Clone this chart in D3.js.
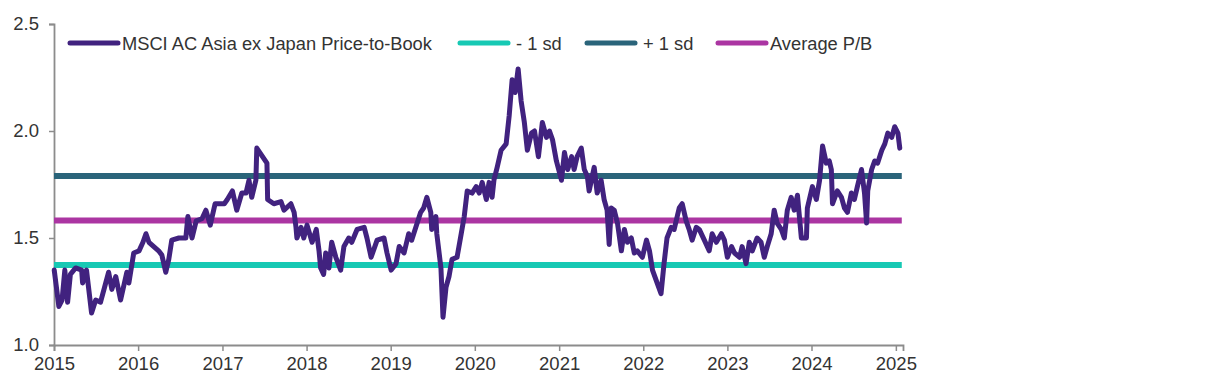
<!DOCTYPE html>
<html>
<head>
<meta charset="utf-8">
<script src="https://cdn.jsdelivr.net/npm/d3@7"></script>
<style>
  body { margin: 0; background: #fff; }
  text { font-family: "Liberation Sans", Arial, sans-serif; fill: #333; }
</style>
</head>
<body>
<div id="chart"></div>
<script>
// P/B readings
const dates = [
  "2015-01-02","2015-01-22","2015-02-05","2015-02-17","2015-03-01","2015-03-13","2015-04-05","2015-05-01","2015-05-05","2015-05-22",
  "2015-06-13","2015-07-01","2015-07-22","2015-08-26","2015-09-09","2015-09-26","2015-10-17","2015-11-13","2015-11-22","2015-12-13",
  "2016-01-05","2016-01-22","2016-02-04","2016-02-17","2016-03-09","2016-03-30","2016-04-13","2016-04-30","2016-05-13","2016-05-26",
  "2016-06-26","2016-07-26","2016-08-04","2016-08-22","2016-09-09","2016-10-04","2016-10-21","2016-11-09","2016-11-30","2017-01-09",
  "2017-01-22","2017-02-13","2017-03-04","2017-03-26","2017-04-13","2017-04-26","2017-05-08","2017-05-26","2017-05-30","2017-07-13",
  "2017-07-16","2017-08-12","2017-09-12","2017-09-25","2017-10-25","2017-11-08","2017-11-16","2017-11-20","2017-12-08","2017-12-20",
  "2018-01-03","2018-01-25","2018-02-12","2018-02-24","2018-03-03","2018-03-16","2018-03-25","2018-04-08","2018-04-20","2018-05-08",
  "2018-05-29","2018-06-12","2018-07-03","2018-07-16","2018-08-08","2018-09-08","2018-09-20","2018-10-08","2018-11-03","2018-12-03",
  "2018-12-16","2019-01-03","2019-01-24","2019-02-07","2019-02-28","2019-03-20","2019-04-02","2019-04-20","2019-05-11","2019-05-24",
  "2019-06-07","2019-06-24","2019-06-28","2019-07-16","2019-07-20","2019-08-07","2019-08-16","2019-08-29","2019-09-11","2019-09-24",
  "2019-10-16","2019-11-03","2019-11-16","2019-11-29","2019-12-20","2020-01-07","2020-01-20","2020-02-02","2020-02-20","2020-03-03",
  "2020-03-16","2020-03-24","2020-04-07","2020-04-24","2020-05-16","2020-05-29","2020-06-11","2020-06-24","2020-07-07","2020-07-20",
  "2020-08-03","2020-08-16","2020-09-03","2020-09-16","2020-10-03","2020-10-20","2020-11-07","2020-11-20","2020-12-03","2020-12-20",
  "2021-01-11","2021-01-24","2021-02-07","2021-02-24","2021-03-07","2021-03-20","2021-04-07","2021-04-20","2021-05-03","2021-05-11",
  "2021-06-02","2021-06-15","2021-07-02","2021-07-15","2021-07-28","2021-08-06","2021-08-15","2021-08-28","2021-09-11","2021-09-28",
  "2021-10-11","2021-10-24","2021-11-10","2021-11-23","2021-12-06","2021-12-28","2022-01-15","2022-01-28","2022-02-10","2022-03-02",
  "2022-03-19","2022-04-01","2022-04-14","2022-05-02","2022-05-15","2022-06-06","2022-06-19","2022-07-06","2022-07-19","2022-08-01",
  "2022-08-19","2022-09-01","2022-09-23","2022-10-14","2022-10-27","2022-11-14","2022-12-06","2022-12-19","2023-01-01","2023-01-19",
  "2023-02-01","2023-02-23","2023-03-06","2023-03-23","2023-04-06","2023-04-19","2023-05-10","2023-05-27","2023-06-10","2023-06-23",
  "2023-07-10","2023-07-23","2023-08-05","2023-08-23","2023-09-05","2023-09-18","2023-10-05","2023-10-18","2023-11-01","2023-11-18",
  "2023-12-10","2023-12-14","2024-01-05","2024-01-22","2024-02-05","2024-02-18","2024-03-05","2024-03-18","2024-03-27","2024-04-01",
  "2024-04-22","2024-05-10","2024-05-23","2024-06-05","2024-06-22","2024-07-05","2024-07-18","2024-08-05","2024-08-18","2024-08-27",
  "2024-09-01","2024-09-18","2024-10-01","2024-10-14","2024-11-01","2024-11-14","2024-11-27","2024-12-14","2024-12-27","2025-01-10",
  "2025-01-18"
];
const pbValues = [
  1.35,1.18,1.21,1.35,1.20,1.33,1.36,1.35,1.29,1.35,
  1.15,1.21,1.20,1.34,1.26,1.32,1.21,1.34,1.29,1.43,
  1.44,1.48,1.52,1.48,1.46,1.44,1.42,1.34,1.40,1.49,
  1.50,1.50,1.60,1.50,1.58,1.59,1.63,1.56,1.66,1.66,
  1.68,1.72,1.63,1.71,1.71,1.77,1.69,1.77,1.92,1.85,
  1.68,1.66,1.67,1.63,1.66,1.62,1.55,1.50,1.55,1.50,
  1.56,1.48,1.54,1.44,1.36,1.33,1.43,1.36,1.48,1.41,
  1.35,1.46,1.50,1.48,1.54,1.55,1.50,1.41,1.49,1.50,
  1.43,1.35,1.38,1.46,1.43,1.52,1.49,1.55,1.62,1.64,
  1.69,1.62,1.54,1.60,1.52,1.36,1.13,1.27,1.32,1.40,
  1.41,1.52,1.60,1.72,1.71,1.74,1.71,1.76,1.68,1.76,
  1.69,1.77,1.83,1.91,1.94,2.07,2.24,2.18,2.29,2.14,
  2.04,1.91,1.99,2.00,1.88,2.04,1.97,2.00,1.96,1.86,
  1.77,1.90,1.82,1.88,1.82,1.88,1.92,1.82,1.79,1.72,
  1.83,1.71,1.77,1.68,1.63,1.47,1.64,1.63,1.57,1.44,
  1.54,1.48,1.50,1.43,1.44,1.41,1.49,1.44,1.35,1.29,
  1.24,1.38,1.50,1.55,1.54,1.64,1.66,1.58,1.54,1.49,
  1.55,1.54,1.49,1.44,1.52,1.48,1.52,1.49,1.41,1.46,
  1.43,1.41,1.46,1.38,1.48,1.44,1.50,1.48,1.41,1.46,
  1.52,1.63,1.57,1.54,1.50,1.63,1.69,1.63,1.70,1.50,
  1.50,1.64,1.74,1.68,1.77,1.93,1.85,1.86,1.82,1.66,
  1.72,1.69,1.64,1.62,1.71,1.68,1.74,1.82,1.71,1.57,
  1.72,1.82,1.86,1.85,1.91,1.94,1.99,1.97,2.02,1.99,
  1.92
];
const averagePB = 1.582;
const stdDev = 0.208;
const yTicks = [1.0, 1.5, 2.0, 2.5];
const legendLabels = ["MSCI AC Asia ex Japan Price-to-Book", "- 1 sd", "+ 1 sd", "Average P/B"];

const W = 1217, H = 384;
const colors = {
  pb: "#41227f",
  minus: "#17c9b4",
  plus: "#2a647a",
  avg: "#ab35a2"
};

const parse = d3.timeParse("%Y-%m-%d");
const series = dates.map((d, i) => ({ date: parse(d), value: pbValues[i] }));

const svg = d3.select("#chart").append("svg")
  .attr("width", W)
  .attr("height", H);

const x = d3.scaleTime()
  .domain([new Date(2015, 0, 1), new Date(2025, 1, 1)])
  .range([54, 903]);
const y = d3.scaleLinear()
  .domain([1, 2.5])
  .range([345, 24]);

// axes
const xAxis = svg.append("g")
  .attr("transform", `translate(0,${y(1)})`)
  .call(d3.axisBottom(x).ticks(d3.timeYear.every(1)).tickFormat(d3.timeFormat("%Y")).tickSizeOuter(0).tickSize(6).tickPadding(6));
const yAxis = svg.append("g")
  .attr("transform", `translate(${x.range()[0]},0)`)
  .call(d3.axisLeft(y).tickValues(yTicks).tickFormat(d3.format(".1f")).tickSizeOuter(0).tickSize(5).tickPadding(10));

[xAxis, yAxis].forEach(a => {
  a.select(".domain").attr("stroke", "#8c8c8c").attr("stroke-width", 1.8);
  a.selectAll(".tick line").attr("stroke", "#8c8c8c").attr("stroke-width", 1.5);
  a.selectAll(".tick text").attr("fill", "#333").style("font-size", "18.5px").style("font-family", "Liberation Sans, Arial, sans-serif");
});

// flat reference lines
const bands = [
  { key: "minus", value: averagePB - stdDev },
  { key: "plus", value: averagePB + stdDev },
  { key: "avg", value: averagePB }
];
const lastX = x(series[series.length - 1].date) + 2;
svg.selectAll(".band")
  .data(bands)
  .enter()
  .append("line")
  .attr("class", "band")
  .attr("x1", x.range()[0])
  .attr("x2", lastX)
  .attr("y1", d => y(d.value))
  .attr("y2", d => y(d.value))
  .attr("stroke", d => colors[d.key])
  .attr("stroke-width", 6);

const line = d3.line()
  .x(d => x(d.date))
  .y(d => y(d.value));

svg.append("path")
  .datum(series)
  .attr("d", line)
  .attr("fill", "none")
  .attr("stroke", colors.pb)
  .attr("stroke-width", 5)
  .attr("stroke-linejoin", "round")
  .attr("stroke-linecap", "round");

// legend
const legendItems = [
  { label: legendLabels[0], color: colors.pb, x: 70 },
  { label: legendLabels[1], color: colors.minus, x: 460 },
  { label: legendLabels[2], color: colors.plus, x: 587 },
  { label: legendLabels[3], color: colors.avg, x: 718 }
];
const legend = svg.append("g").attr("transform", "translate(0,43)");
const item = legend.selectAll(".item")
  .data(legendItems)
  .enter()
  .append("g")
  .attr("class", "item")
  .attr("transform", d => `translate(${d.x},0)`);
item.append("line")
  .attr("x1", 0).attr("x2", 48)
  .attr("stroke", d => d.color)
  .attr("stroke-width", 5)
  .attr("stroke-linecap", "round");
item.append("text")
  .attr("x", (d, i) => i === 0 || i === 3 ? 52 : 56)
  .attr("dy", "0.36em")
  .style("font-size", "18.3px")
  .text(d => d.label);
</script>
</body>
</html>
